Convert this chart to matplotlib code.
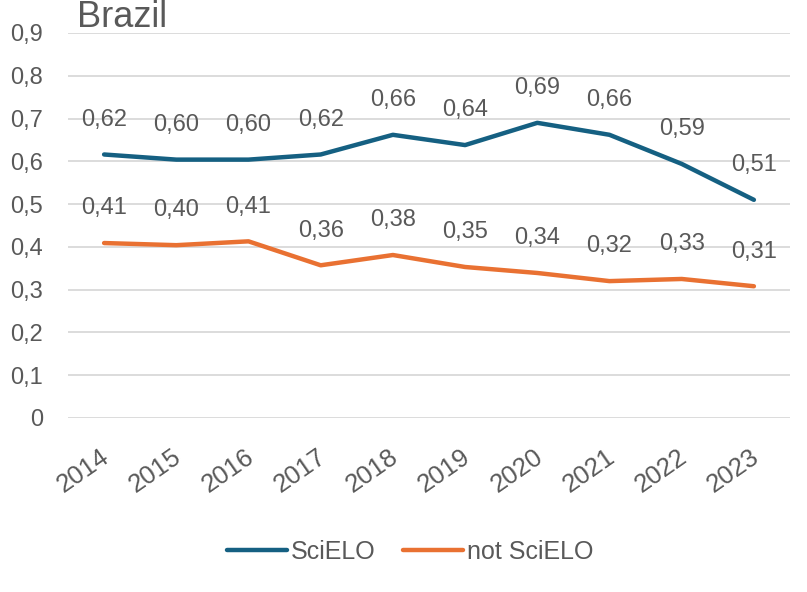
import matplotlib
matplotlib.use('Agg')
import matplotlib.pyplot as plt
from matplotlib import font_manager
from matplotlib.transforms import ScaledTranslation

years = ['2014', '2015', '2016', '2017', '2018', '2019', '2020', '2021', '2022', '2023']
scielo = [0.616, 0.604, 0.604, 0.616, 0.662, 0.638, 0.690, 0.662, 0.594, 0.510]
not_scielo = [0.409, 0.404, 0.413, 0.357, 0.381, 0.353, 0.339, 0.320, 0.325, 0.308]
y_ticks = [0, 0.1, 0.2, 0.3, 0.4, 0.5, 0.6, 0.7, 0.8, 0.9]

names = {f.name for f in font_manager.fontManager.ttflist}
fam = 'Liberation Sans Narrow' if 'Liberation Sans Narrow' in names else 'Liberation Sans'
plt.rcParams['font.family'] = [fam, 'DejaVu Sans']
grey = '#595959'

fig = plt.figure(figsize=(8.07, 5.92), dpi=100)
ax = fig.add_axes([68 / 807, 1 - 418 / 592, (790 - 68) / 807, (418 - 33) / 592])

x = list(range(len(years)))
ax.plot(x, scielo, color='#156082', lw=3.2, solid_capstyle='round', label='SciELO')
ax.plot(x, not_scielo, color='#E97132', lw=3.2, solid_capstyle='round', label='not SciELO')

def fmt(v):
    return f'{v:.2f}'.replace('.', ',')

# data labels above each point
for series in (scielo, not_scielo):
    for xi, v in zip(x, series):
        ax.annotate(fmt(v), (xi, v), xytext=(0, 25), textcoords='offset points',
                    ha='center', va='center', fontsize=17, color=grey)

ax.set_xlim(-0.5, len(years) - 0.5)
ax.set_ylim(0, 0.9)
ax.set_yticks(y_ticks)
ax.set_yticklabels(['0' if t == 0 else f'{t:.1f}'.replace('.', ',') for t in y_ticks])
ax.set_xticks(x)
ax.set_xticklabels(years, rotation=35, ha='right', va='top', rotation_mode='anchor')
ax.tick_params(axis='both', length=0, labelsize=17, colors=grey)
ax.tick_params(axis='x', labelsize=18.5, pad=19)
ax.tick_params(axis='y', pad=18)
shift = ScaledTranslation(-4 / 100, 0, fig.dpi_scale_trans)
for lbl in ax.get_xticklabels():
    lbl.set_transform(lbl.get_transform() + shift)
ax.grid(axis='y', color='#d9d9d9', lw=1.3)
ax.set_axisbelow(True)
for s in ax.spines.values():
    s.set_visible(False)

fig.text(77 / 807, 1 - 27 / 592, 'Brazil', fontsize=26, color=grey, va='baseline', ha='left')

fig.legend(loc='center', bbox_to_anchor=(410 / 807, 1 - 552 / 592), ncol=2, frameon=False,
           fontsize=18, labelcolor=grey, handlelength=2.4, handletextpad=0.15, columnspacing=1.1)

fig.savefig('out.png', dpi=100)
